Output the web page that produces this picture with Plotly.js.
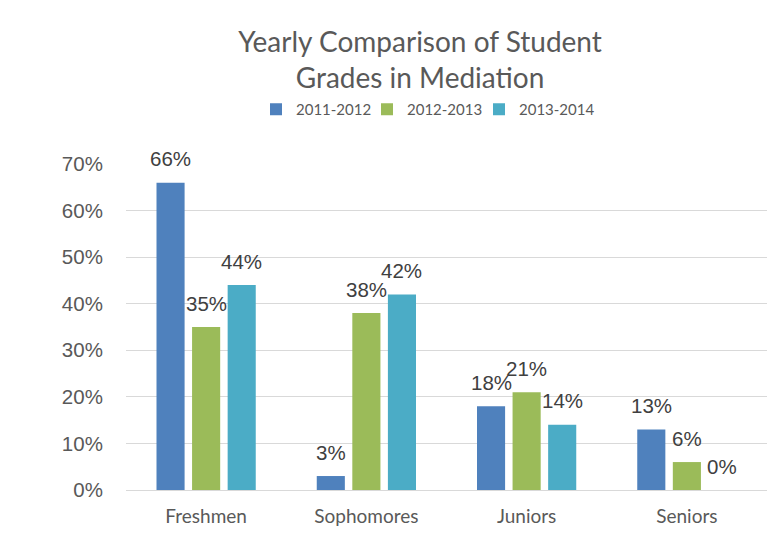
<!DOCTYPE html>
<html>
<head>
<meta charset="utf-8">
<script src="https://cdn.plot.ly/plotly-3.0.1.min.js"></script>
<style>html,body{margin:0;padding:0;background:#fff;}#chart{width:767px;height:543px;}</style>
</head>
<body>
<div id="chart"></div>
<script>
const categories = ["Freshmen", "Sophomores", "Juniors", "Seniors"];
const seriesNames = ["2011-2012", "2012-2013", "2013-2014"];
const values2011 = [66, 3, 18, 13];
const values2012 = [35, 38, 21, 6];
const values2013 = [44, 42, 14, 0];
const yTickVals = [0, 10, 20, 30, 40, 50, 60, 70];
const yTickText = ["0%", "10%", "20%", "30%", "40%", "50%", "60%", "70%"];
const colors = ["#4F81BD", "#9BBB59", "#4BACC6"];

const allValues = [values2011, values2012, values2013];
const BARGAP = 0.334;
const plotLeft = 126, plotRight = 767;
const catWidthPx = (plotRight - plotLeft) / categories.length;
const slotPx = catWidthPx * (1 - BARGAP) / allValues.length;
const legendIds = ["legend", "legend2", "legend3"];
const legendLeftPx = [256, 367, 479];

const traces = allValues.map((vals, i) => ({
  type: "bar",
  name: seriesNames[i],
  x: categories,
  y: vals,
  legend: legendIds[i],
  marker: {color: colors[i]},
  hoverinfo: "none"
}));

const annotations = [];
allValues.forEach((vals, i) => {
  vals.forEach((v, j) => {
    annotations.push({
      x: categories[j], y: v, xref: "x", yref: "y",
      text: v + "%", showarrow: false,
      xanchor: "center", yanchor: "middle",
      xshift: (i - 1) * slotPx, yshift: 24,
      font: {family: "Liberation Sans, Arial, sans-serif", size: 20.5, color: "#404040"}
    });
  });
});

const layout = {
  width: 767,
  height: 543,
  margin: {l: plotLeft, r: 767 - plotRight, t: 164, b: 53},
  paper_bgcolor: "#ffffff",
  plot_bgcolor: "#ffffff",
  barmode: "group",
  bargap: BARGAP,
  bargroupgap: 0.21,
  showlegend: true,
  annotations: annotations,
  title: {
    text: "Yearly Comparison of Student<br>Grades in Mediation",
    font: {family: "Lato, Carlito, Calibri, sans-serif", size: 28, color: "#595959"},
    xref: "container", x: 420/767, xanchor: "center",
    yref: "container", y: 1 - 52/543, yanchor: "top"
  },
  xaxis: {
    type: "category",
    tickfont: {family: "Lato, Carlito, Calibri, sans-serif", size: 19, color: "#595959"},
    showgrid: false,
    showline: true,
    linecolor: "#d9d9d9",
    linewidth: 1,
    ticks: "outside", ticklen: 9, tickcolor: "rgba(0,0,0,0)",
    fixedrange: true
  },
  yaxis: {
    range: [0, 70],
    tickvals: yTickVals,
    ticktext: yTickText,
    tickfont: {family: "Liberation Sans, Arial, sans-serif", size: 20.5, color: "#595959"},
    showgrid: true,
    gridcolor: "#d9d9d9",
    gridwidth: 1,
    zeroline: false,
    showline: false,
    ticks: "outside", ticklen: 18, tickcolor: "rgba(0,0,0,0)",
    fixedrange: true
  }
};

legendIds.forEach((id, i) => {
  layout[id] = {
    orientation: "h",
    xref: "container", x: legendLeftPx[i] / 767, xanchor: "left",
    yref: "container", y: 1 - 93/543, yanchor: "top",
    font: {family: "Lato, Carlito, Calibri, sans-serif", size: 15, color: "#595959"},
    itemwidth: 30,
    bgcolor: "rgba(0,0,0,0)"
  };
});

Plotly.newPlot("chart", traces, layout, {displayModeBar: false, staticPlot: true});
</script>
</body>
</html>
